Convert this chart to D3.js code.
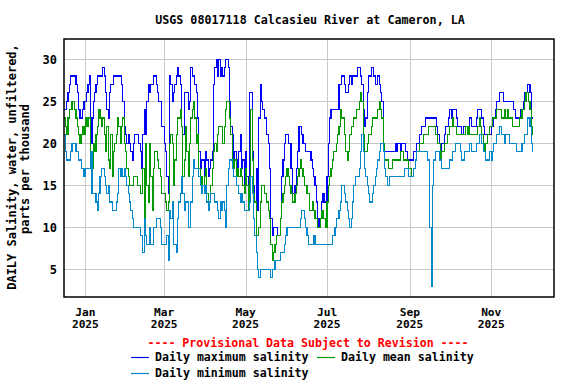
<!DOCTYPE html>
<html><head><meta charset="utf-8">
<script src="https://cdn.jsdelivr.net/npm/d3@7"></script>
<style>
body{margin:0;background:#fff}
svg{display:block}
text{font-family:"DejaVu Sans Mono","Liberation Mono",monospace;font-weight:bold;fill:#000}
</style>
</head><body>
<svg id="chart" width="576" height="384"></svg>
<script>
const chartTitle = "USGS 08017118 Calcasieu River at Cameron, LA";
const yLabelLines = ["DAILY Salinity, water, unfiltered,", "parts per thousand"];
const firstDay = "2024-12-16";
const domainEnd = "2025-12-18";
const yTicks = [5, 10, 15, 20, 25, 30];
const xTickDates = ["2025-01-01","2025-03-01","2025-05-01","2025-07-01","2025-09-01","2025-11-01"];
const xTickMonths = ["Jan","Mar","May","Jul","Sep","Nov"];
const xTickYears = ["2025","2025","2025","2025","2025","2025"];
const provisionalNote = "---- Provisional Data Subject to Revision ----";
const seriesNames = ["Daily maximum salinity","Daily mean salinity","Daily minimum salinity"];

const maxSal = [
24,24,25,26,27,28,28,28,28,27,
26,24,23,23,24,25,25,26,27,28,
20,23,25,26,27,28,28,28,28,29,
28,26,24,23,26,27,27,28,28,28,
28,28,28,27,25,22,21,20,21,20,
19,18,20,21,21,21,20,19,17,21,
24,21,25,27,26,27,27,28,28,27,
26,25,25,22,22,20,19,16,14,28,
27,25,26,27,28,29,28,27,22,21,
26,26,26,24,25,29,28,28,27,26,
23,19,17,18,18,16,19,18,16,17,
18,19,27,29,30,28,30,28,29,28,
29,30,30,29,25,22,21,18,19,18,
17,19,21,17,18,15,19,16,12,26,
26,19,15,13,17,12,23,27,25,24,
23,23,21,20,17,11,9,10,10,10,
9,9,11,16,18,20,21,21,20,20,
17,14,14,15,17,19,22,22,21,20,
20,19,19,19,19,18,17,16,15,13,
11,10,11,13,14,13,13,16,20,23,
24,24,24,24,24,24,27,27,28,28,
27,26,26,27,28,27,28,28,28,28,
29,29,28,27,24,22,23,26,28,28,
29,29,28,27,27,28,27,26,25,20,
19,19,19,19,19,19,19,19,20,19,
20,20,19,20,20,20,19,18,18,18,
18,18,19,19,20,20,21,21,22,22,
22,23,23,23,23,23,23,23,23,22,
21,20,19,20,20,21,22,22,23,24,
23,24,24,24,23,22,22,22,21,22,
22,22,22,22,23,22,22,22,22,23,
24,24,24,23,22,21,21,21,21,21,
22,22,23,24,25,25,26,26,26,25,
25,25,25,25,25,25,25,24,23,23,
23,23,24,24,25,26,26,27,27,26,
23,23];

const meanSal = [
23,22,21,23,24,24,25,25,24,23,
22,21,20,21,22,21,23,22,23,23,
19,17,20,19,21,22,24,23,22,23,
21,19,22,18,17,21,16,19,20,21,
23,22,20,22,23,20,19,17,16,15,
15,15,16,16,16,15,15,14,14,17,
11,20,15,13,20,16,12,17,19,19,
18,17,16,14,14,14,13,12,13,20,
21,20,15,18,21,23,23,24,22,16,
18,22,19,16,20,23,24,25,23,20,
21,17,15,16,15,16,17,14,13,13,
15,17,19,20,19,21,22,22,22,20,
22,24,25,25,23,21,18,17,18,16,
17,16,17,16,15,14,17,15,12,16,
24,18,14,13,9,9,10,13,15,15,
14,14,13,12,11,8,6,7,8,9,
9,9,11,13,14,15,16,17,16,15,
14,13,13,14,15,16,17,18,17,16,
15,15,14,14,12,12,13,12,11,11,
10,10,11,12,11,11,10,13,15,16,
17,18,19,19,20,21,22,24,23,23,
21,19,18,19,21,22,22,23,23,24,
24,25,26,25,21,19,19,20,21,21,
22,23,23,23,23,24,25,24,23,20,
18,18,18,17,17,17,18,18,18,18,
18,18,19,19,18,18,18,18,17,17,
16,16,17,18,19,19,20,20,20,21,
21,21,21,22,22,22,22,22,21,21,
20,20,18,19,19,20,20,21,21,22,
22,23,22,22,21,21,21,21,21,21,
21,22,21,22,21,21,21,21,21,21,
22,23,22,21,20,19,20,21,21,22,
22,23,23,23,24,24,24,24,23,23,
24,23,24,23,23,23,22,22,22,22,
22,23,23,24,24,25,26,26,25,24,
22,21];

const minSal = [
21,19,18,18,18,19,20,20,20,19,
19,18,18,17,17,16,17,17,17,17,
19,14,14,14,13,12,14,16,17,17,
16,15,14,15,13,13,12,12,12,13,
14,17,16,17,16,17,16,15,14,13,
12,11,10,10,10,10,10,9,9,7,
11,9,8,8,10,8,8,10,10,11,
11,11,10,8,8,8,8,9,6,12,
11,13,8,8,7,11,13,14,16,14,
12,13,13,10,10,13,16,18,17,17,
17,16,15,14,15,14,15,13,12,13,
14,14,14,13,13,12,11,13,12,13,
12,10,15,17,18,18,17,16,16,15,
15,14,13,14,13,12,12,12,12,13,
16,14,11,9,7,5,4,5,5,5,
5,5,5,5,5,4,5,5,6,6,
6,6,7,7,7,8,9,10,10,10,
10,10,10,10,10,10,10,11,12,12,
11,10,9,8,8,8,8,9,8,8,
8,8,8,8,8,8,8,8,8,8,
8,9,9,10,11,11,12,13,15,15,
14,13,12,11,10,11,13,15,16,16,
16,17,19,21,19,17,16,15,14,13,
13,14,15,16,17,18,19,20,20,19,
17,16,15,15,16,16,16,16,16,16,
16,16,16,16,16,17,17,17,16,16,
16,16,17,18,19,19,19,19,19,19,
19,19,18,18,10,3,15,18,19,19,
19,18,18,17,17,17,17,17,17,18,
18,19,19,20,20,20,20,19,18,18,
19,19,19,19,20,19,19,19,19,20,
20,21,21,20,19,19,18,18,18,19,
18,19,20,20,21,21,22,22,21,21,
20,21,21,21,20,20,20,20,20,19,
19,19,19,20,20,21,21,23,23,22,
20,19];

const colors = {max:"#0000ff", mean:"#009900", min:"#0088cc"};

const svg = d3.select("#chart");
const pLeft = 64, pRight = 554, pTop = 39, pBottom = 297;
const parse = d3.utcParse("%Y-%m-%d");
const t0 = parse(firstDay);
const dayDate = i => d3.utcDay.offset(t0, i);

const x = d3.scaleUtc().domain([t0, parse(domainEnd)]).range([pLeft, pRight]);
const y = d3.scaleLinear().domain([1.7, 32.4]).range([pBottom, pTop]);

// grid
svg.append("g").selectAll("line").data(yTicks).join("line")
  .attr("x1", pLeft).attr("x2", pRight)
  .attr("y1", d => Math.round(y(d)) + 0.5).attr("y2", d => Math.round(y(d)) + 0.5)
  .attr("stroke", "#c8c8c8").attr("stroke-width", 1);
svg.append("g").selectAll("line").data(xTickDates).join("line")
  .attr("y1", pTop).attr("y2", pBottom)
  .attr("x1", d => Math.round(x(parse(d))) + 0.5).attr("x2", d => Math.round(x(parse(d))) + 0.5)
  .attr("stroke", "#c8c8c8").attr("stroke-width", 1);

// lines
svg.append("clipPath").attr("id","clip").append("rect")
  .attr("x", pLeft).attr("y", pTop).attr("width", pRight-pLeft).attr("height", pBottom-pTop);
const line = d3.line().x((d,i) => x(dayDate(i))).y(d => y(d)).curve(d3.curveStepAfter);
const series = [[maxSal, colors.max], [meanSal, colors.mean], [minSal, colors.min]];
const lg = svg.append("g").attr("clip-path","url(#clip)");
series.forEach(([vals, c]) => {
  lg.append("path").attr("d", line(vals)).attr("fill","none")
    .attr("stroke", c).attr("stroke-width", 1.1).attr("shape-rendering","crispEdges");
});

// frame
svg.append("rect").attr("x", pLeft).attr("y", pTop).attr("width", pRight-pLeft).attr("height", pBottom-pTop)
  .attr("fill","none").attr("stroke","#000").attr("stroke-width",1.5);

// y axis labels
const ya = svg.append("g").attr("transform", `translate(${pLeft},0)`)
  .call(d3.axisLeft(y).tickValues(yTicks).tickSize(0).tickPadding(7));
ya.select(".domain").remove();
ya.selectAll("text").style("font-family",'"DejaVu Sans Mono",monospace').style("font-weight","bold")
  .style("font-size","12px").attr("fill","#000");

// x axis labels
const xl = svg.append("g").selectAll("g").data(xTickDates).join("g")
  .attr("transform", d => `translate(${x(parse(d))},0)`);
xl.append("text").attr("y", 316).attr("text-anchor","middle").style("font-size","11.2px")
  .text((d,i) => xTickMonths[i]);
xl.append("text").attr("y", 327.8).attr("text-anchor","middle").style("font-size","11.2px")
  .text((d,i) => xTickYears[i]);

// title
svg.append("text").attr("x", 310).attr("y", 24).attr("text-anchor","middle")
  .style("font-size","11.7px").text(chartTitle);

// y label
svg.append("text").attr("transform","translate(16,167) rotate(-90)").attr("text-anchor","middle")
  .style("font-size","12px").text(yLabelLines[0]);
svg.append("text").attr("transform","translate(29,169) rotate(-90)").attr("text-anchor","middle")
  .style("font-size","12px").text(yLabelLines[1]);

// legend
svg.append("text").attr("x", 308).attr("y", 347).attr("text-anchor","middle")
  .style("font-size","11.6px").style("fill","#ff0000").text(provisionalNote);
const legendItems = [
  {name: seriesNames[0], c: colors.max, x: 131, y: 357},
  {name: seriesNames[1], c: colors.mean, x: 317, y: 357},
  {name: seriesNames[2], c: colors.min, x: 131, y: 373}
];
const li = svg.append("g").selectAll("g").data(legendItems).join("g");
li.append("line").attr("x1", d => d.x).attr("x2", d => d.x + 18)
  .attr("y1", d => d.y + 0.5).attr("y2", d => d.y + 0.5).attr("stroke", d => d.c).attr("stroke-width",1.2);
li.append("text").attr("x", d => d.x + 24).attr("y", d => d.y + 4.2)
  .style("font-size","11.6px").text(d => d.name);
</script>
</body></html>
